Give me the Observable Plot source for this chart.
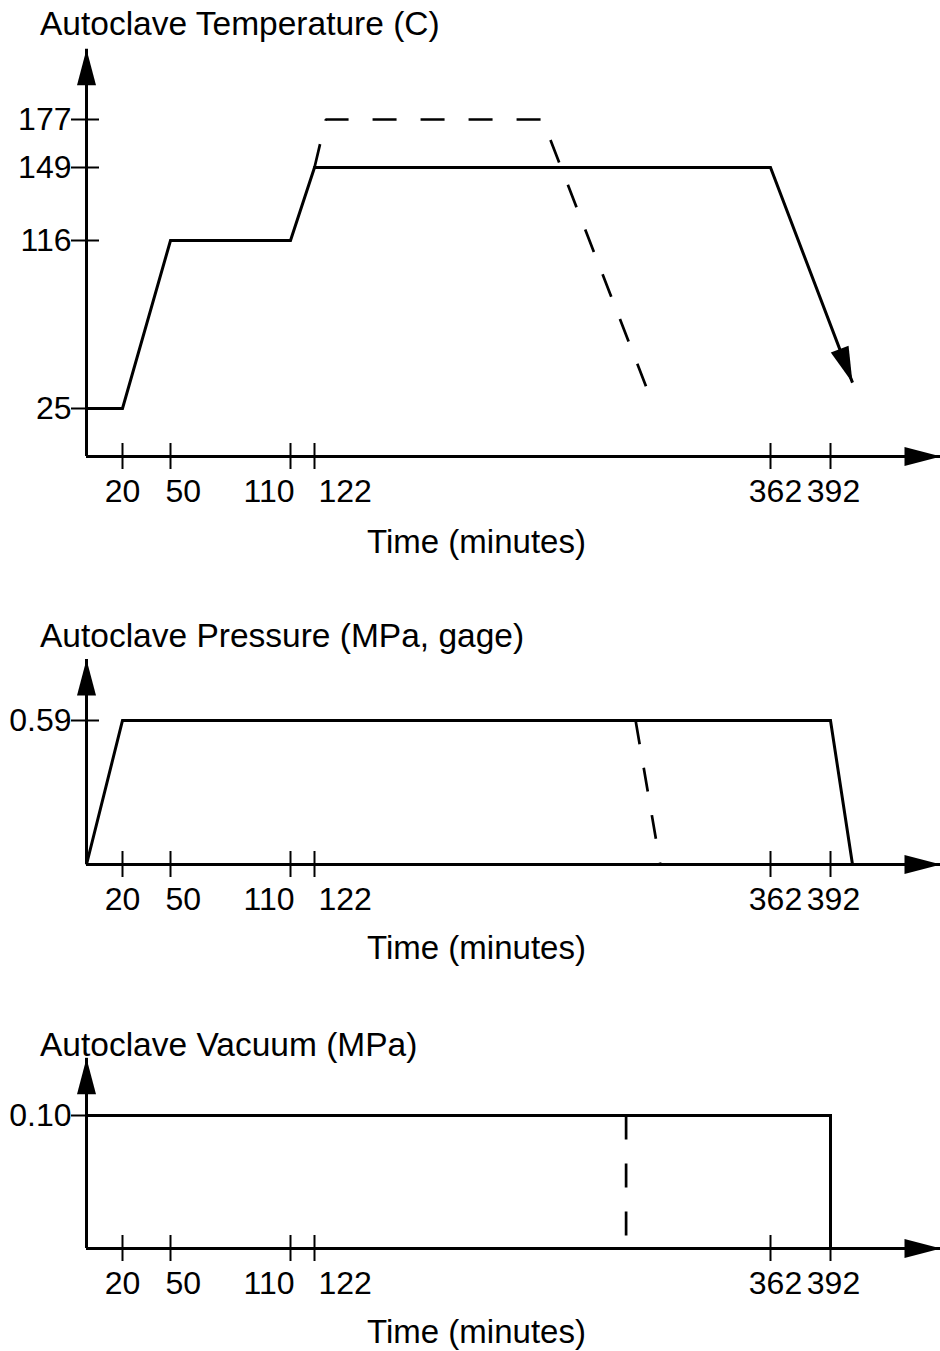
<!DOCTYPE html>
<html><head><meta charset="utf-8">
<script src="https://cdn.jsdelivr.net/npm/d3@7"></script>
<script src="https://cdn.jsdelivr.net/npm/@observablehq/plot@0.6"></script>
<style>
body{margin:0;background:#fff;}
#chart{width:940px;padding-top:12px;font-family:"Liberation Sans",Arial,Helvetica,sans-serif;color:#000;}
.title{font-size:33.5px;line-height:24px;height:24px;margin:0;padding-left:40px;font-weight:normal;white-space:nowrap;position:relative;z-index:1;}
svg{display:block;overflow:visible;}
</style></head><body><div id="chart"></div>
<script>
// ---- data ----
const timeTicks = [20, 50, 110, 122, 362, 392];
const tempTicks = [25, 116, 149, 177];
const pressureTicks = [0.59];
const vacuumTicks = [0.10];

const tempSolidTime = [0, 20, 50, 110, 122, 362, 403];
const tempSolid     = [25, 25, 116, 116, 149, 149, 39];
const tempDashTime  = [122, 128, 242, 298];
const tempDash      = [149, 177, 177, 33];

const pressSolidTime = [0, 20, 392, 403];
const pressSolid     = [0, 0.59, 0.59, 0];
const pressDashTime  = [291, 304];
const pressDash      = [0.59, 0];

const vacSolidTime = [0, 392, 392];
const vacSolid     = [0.10, 0.10, 0];
const vacDashTime  = [286, 286];
const vacDash      = [0.10, 0];

const timeAxisEnd = 447;
const titles = ["Autoclave Temperature (C)", "Autoclave Pressure (MPa, gage)", "Autoclave Vacuum (MPa)"];
const xLabel = "Time (minutes)";

// ---- styling / scales ----
const FONT = '"Liberation Sans", Arial, Helvetica, sans-serif';
const xScale = {type: "linear", axis: null, domain: [0, ...timeTicks], range: [86, 122, 170, 290, 314, 770, 830]};
const timeLabelAnchor = ["middle", "start", "end", "start", "middle", "middle"];
const timeLabelDx = [0, -5, 4, 4, 5, 3];
const arrowHead = {draw(ctx) { ctx.moveTo(0, 0); ctx.lineTo(9.5, 36); ctx.lineTo(-9.5, 36); ctx.closePath(); }};
const pts = (T, V) => T.map((t, i) => ({t, v: V[i]}));

function panel({title, height, marginBottom, y, yTicks, yTop, tickFormat, solid, dash, endArrow}) {
  const sx = Plot.scale({x: {type: xScale.type, domain: xScale.domain, range: xScale.range}});
  const sy = Plot.scale({y});
  const marks = [
    Plot.ruleY([0], {x1: 0, x2: timeAxisEnd, strokeWidth: 3}),
    Plot.ruleX([0], {y1: 0, y2: yTop, strokeWidth: 3}),
    Plot.dot([{t: timeAxisEnd, v: 0}], {x: "t", y: "v", symbol: arrowHead, rotate: 90, fill: "black", stroke: "none"}),
    Plot.dot([{t: 0, v: yTop}], {x: "t", y: "v", symbol: arrowHead, rotate: 0, fill: "black", stroke: "none"}),
    ...timeTicks.map((t, i) => Plot.text([t], {x: d => d, y: () => 0, text: d => String(d),
      textAnchor: timeLabelAnchor[i], dx: timeLabelDx[i], dy: 35, lineAnchor: "middle", fontSize: 32})),
    Plot.ruleX(timeTicks, {x: d => d, y1: 0, y2: 0, insetTop: -13, insetBottom: -13, strokeWidth: 2}),
    Plot.ruleY(yTicks, {y: d => d, x1: 0, x2: 0, insetLeft: -15, insetRight: -13, strokeWidth: 2}),
    Plot.axisY(yTicks, {tickSize: 0, tickPadding: 15, fontSize: 32, label: null, tickFormat}),
    Plot.text([xLabel], {frameAnchor: "bottom", dx: -37, dy: 84, fontSize: 33, lineAnchor: "middle"}),
    Plot.line(dash, {x: "t", y: "v", strokeWidth: 2.7, strokeDasharray: "24,24", strokeLinecap: "butt", strokeLinejoin: "miter"}),
    Plot.line(solid, {x: "t", y: "v", strokeWidth: 3, strokeLinecap: "butt", strokeLinejoin: "miter", strokeMiterlimit: 10})
  ];
  if (endArrow) {
    const [a, b] = solid.slice(-2);
    const ddx = sx.apply(b.t) - sx.apply(a.t), ddy = sy.apply(b.v) - sy.apply(a.v);
    const ang = Math.atan2(ddx, -ddy) * 180 / Math.PI;
    marks.push(Plot.dot([b], {x: "t", y: "v", symbol: arrowHead, rotate: ang, fill: "black", stroke: "none"}));
  }
  const svg = Plot.plot({
    width: 940, height, marginLeft: 86, marginRight: 0, marginTop: 0, marginBottom,
    x: xScale, y: {...y, axis: null},
    style: {background: "transparent", overflow: "visible", fontFamily: FONT, fontSize: "32px", color: "black"},
    marks
  });
  const h = document.createElement("div");
  h.className = "title";
  h.textContent = title;
  const root = document.getElementById("chart");
  root.appendChild(h);
  root.appendChild(svg);
}

panel({
  title: titles[0], height: 588, marginBottom: 166,
  y: {type: "linear", domain: [0, ...tempTicks], range: [420, 372, 204, 131, 83]},
  yTicks: tempTicks, yTop: 218, tickFormat: d3.format("d"),
  solid: pts(tempSolidTime, tempSolid), dash: pts(tempDashTime, tempDash), endArrow: true
});
panel({
  title: titles[1], height: 385, marginBottom: 169,
  y: {type: "linear", domain: [0, ...pressureTicks], range: [216, 72]},
  yTicks: pressureTicks, yTop: 0.84, tickFormat: d3.format(".2f"),
  solid: pts(pressSolidTime, pressSolid), dash: pts(pressDashTime, pressDash), endArrow: false
});
panel({
  title: titles[2], height: 294, marginBottom: 103,
  y: {type: "linear", domain: [0, ...vacuumTicks], range: [191, 58]},
  yTicks: vacuumTicks, yTop: 0.143, tickFormat: d3.format(".2f"),
  solid: pts(vacSolidTime, vacSolid), dash: pts(vacDashTime, vacDash), endArrow: false
});
</script></body></html>
